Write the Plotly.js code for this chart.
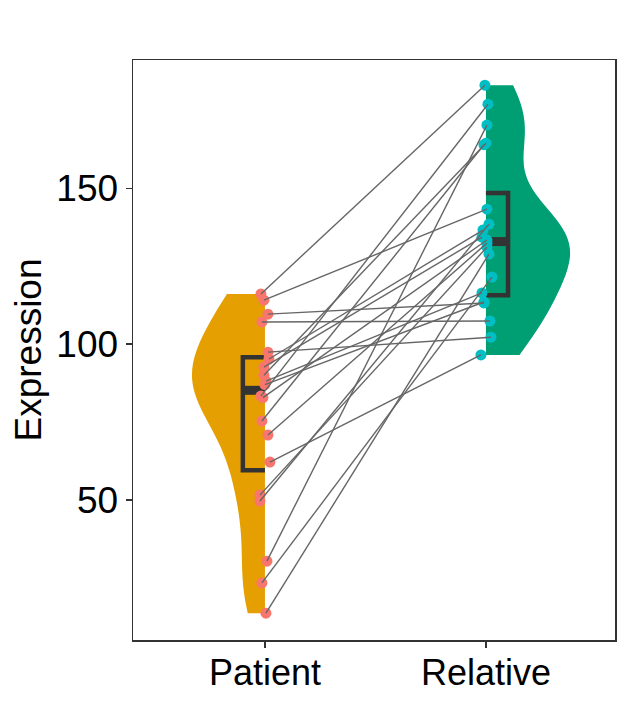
<!DOCTYPE html>
<html>
<head>
<meta charset="utf-8">
<script src="https://cdn.plot.ly/plotly-3.0.1.min.js"></script>
<style>
  html, body { margin: 0; padding: 0; background: #ffffff; }
  #chart { width: 634px; height: 704px; }
</style>
</head>
<body>
<div id="chart"></div>
<script>
// Datos (cada posicion i es un par paciente/familiar)
const categories = ['Patient', 'Relative'];
const patientVals  = [116.1, 114.1, 109.6, 107.1, 97.4, 95.2, 92.6, 90.0, 88.1, 87.0,
                      83.3, 82.8, 75.3, 70.8, 62.1, 51.5, 49.6, 30.3, 23.3, 13.6];
const relativeVals = [183.1, 143.3, 113.2, 107.4, 102.2, 136.6, 134.3, 164.5, 116.4, 113.5,
                      177.0, 133.4, 164.0, 132.4, 96.5, 131.1, 138.5, 170.3, 121.5, 128.9];
// pequeño desplazamiento horizontal de cada punto (jitter), en pixeles aprox.
const patientJitterPx  = [-4, -1, 3, -3, 3, 4, -1, -1, 1, 0, -4, -2, -3, 3, 5, -5, -5, 2, -3, 1];
const relativeJitterPx = [-1, 1, -2, 4, 5, -3, -4, 0, -4, -2, 2, 1, -2, 1, -5, 1, 3, 1, 6, 3];
const yTicks = [50, 100, 150];

/**********************************************************************************************/
// FUNCIONES DE APOYO
function quantile7(arr, p) {
    const s = [...arr].sort((a, b) => a - b);
    const h = (s.length - 1) * p;
    const lo = Math.floor(h);
    const hi = Math.min(lo + 1, s.length - 1);
    return s[lo] + (h - lo) * (s[hi] - s[lo]);
}
function bwNrd0(arr) {
    const n = arr.length;
    const mean = arr.reduce((a, b) => a + b, 0) / n;
    const sd = Math.sqrt(arr.reduce((a, b) => a + (b - mean) ** 2, 0) / (n - 1));
    const iqr = quantile7(arr, 0.75) - quantile7(arr, 0.25);
    return 0.9 * Math.min(sd, iqr / 1.34) * Math.pow(n, -0.2);
}

// medio boxplot tipo "corchete": Q3 -> lado -> Q1, mas la mediana gruesa
function halfBox(vals, center, dir) {
    const q1 = quantile7(vals, 0.25), med = quantile7(vals, 0.5), q3 = quantile7(vals, 0.75);
    const edge = center + dir * 0.1;
    return [
        { type: 'scatter', mode: 'lines', x: [center, edge, edge, center], y: [q3, q3, q1, q1],
          line: { color: '#333333', width: 4.5 }, hoverinfo: 'skip', showlegend: false },
        { type: 'scatter', mode: 'lines', x: [center, edge], y: [med, med],
          line: { color: '#333333', width: 9 }, hoverinfo: 'skip', showlegend: false }
    ];
}

/**********************************************************************************************/
// TRAZAS
const violinP = {
    type: 'violin', x0: 1, y: patientVals, side: 'negative', width: 0.66,
    spanmode: 'hard', bandwidth: bwNrd0(patientVals), scalegroup: 'p', scalemode: 'width',
    fillcolor: '#E69F00', opacity: 1, line: { width: 0, color: '#E69F00' },
    points: false, box: { visible: false }, meanline: { visible: false },
    hoverinfo: 'skip', showlegend: false
};
const violinR = {
    type: 'violin', x0: 2, y: relativeVals, side: 'positive', width: 0.76,
    spanmode: 'hard', bandwidth: bwNrd0(relativeVals), scalegroup: 'r', scalemode: 'width',
    fillcolor: '#009E73', opacity: 1, line: { width: 0, color: '#009E73' },
    points: false, box: { visible: false }, meanline: { visible: false },
    hoverinfo: 'skip', showlegend: false
};

const pxPorUnidad = 221;
const pX = patientVals.map((v, i) => 1 + patientJitterPx[i] / pxPorUnidad);
const rX = relativeVals.map((v, i) => 2 + relativeJitterPx[i] / pxPorUnidad);

const ptsP = {
    type: 'scatter', mode: 'markers', x: pX, y: patientVals,
    marker: { color: '#F8766D', size: 11 }, showlegend: false
};
const ptsR = {
    type: 'scatter', mode: 'markers', x: rX, y: relativeVals,
    marker: { color: '#00BFC4', size: 11 }, showlegend: false
};

// lineas que unen cada par
const lx = [], ly = [];
patientVals.forEach((v, i) => {
    lx.push(pX[i], rX[i], null);
    ly.push(v, relativeVals[i], null);
});
const pares = {
    type: 'scatter', mode: 'lines', x: lx, y: ly,
    line: { color: '#666666', width: 1.4 }, hoverinfo: 'skip', showlegend: false
};

const data = [violinP, violinR, ...halfBox(patientVals, 1, -1), ...halfBox(relativeVals, 2, 1), ptsP, ptsR, pares];

const layout = {
    width: 634,
    height: 704,
    paper_bgcolor: '#ffffff',
    plot_bgcolor: '#ffffff',
    margin: { l: 133, r: 19, t: 60, b: 64 },
    font: { family: 'Liberation Sans, Arial, sans-serif', color: '#000000' },
    showlegend: false,
    xaxis: {
        type: 'linear',
        range: [0.403, 2.584],
        tickvals: [1, 2],
        ticktext: categories,
        tickfont: { size: 36, color: '#000000' },
        ticks: 'outside', ticklen: 6, tickcolor: '#333333', tickwidth: 1.5,
        ticklabelstandoff: -6,
        showgrid: false, zeroline: false,
        showline: true, mirror: true, linecolor: '#333333', linewidth: 1.5
    },
    yaxis: {
        range: [4.98, 191.2],
        tickvals: yTicks,
        tickfont: { size: 37, color: '#000000' },
        ticks: 'outside', ticklen: 6, tickcolor: '#333333', tickwidth: 1.5,
        showgrid: false, zeroline: false,
        showline: true, mirror: true, linecolor: '#333333', linewidth: 1.5,
        title: { text: 'Expression', font: { size: 37, color: '#000000' }, standoff: 3 }
    }
};

Plotly.newPlot('chart', data, layout, { displayModeBar: false, staticPlot: true });
</script>
</body>
</html>
